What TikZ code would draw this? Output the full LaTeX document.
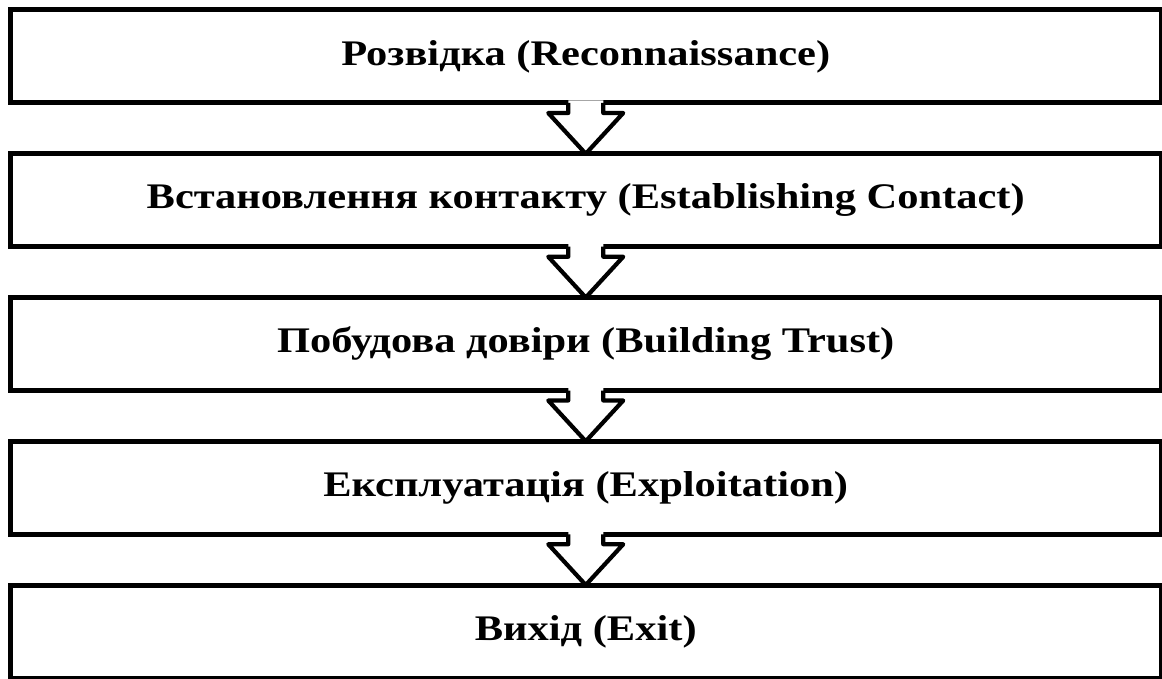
\documentclass[tikz,border=0pt]{standalone}
\usepackage{fontspec}
\setmainfont{Liberation Serif}
\newfontfamily\stagefont[FakeStretch=1.18]{Liberation Serif}
\usetikzlibrary{calc}
\tikzset{
  stage/.style={draw, line width=2.5pt, rectangle, minimum width=575.25pt,
    minimum height=46.5pt, inner sep=0pt, outer sep=0pt,
    font=\stagefont\fontsize{18}{21}\selectfont\bfseries},
  flowarrow/.style={draw=black, line width=2.1pt, line join=round},
  gapfill/.style={fill=white},
}
\begin{document}
\begin{tikzpicture}[x=0.5pt,y=-0.5pt]
\useasboundingbox (0,0) rectangle (1162,679);
% the five stages, top to bottom
\node[stage] (s1) at (585.75,56.5)  {Розвідка (Reconnaissance)};
\node[stage] (s2) at (585.75,200.25) {Встановлення контакту (Establishing Contact)};
\node[stage] (s3) at (585.75,344)   {Побудова довіри (Building Trust)};
\node[stage] (s4) at (585.75,487.75) {Експлуатація (Exploitation)};
\node[stage] (s5) at (585.75,631.5) {Вихід (Exit)};
% block arrows leading from each stage into the next
\foreach \a/\b in {s1/s2,s2/s3,s3/s4,s4/s5}{
  \fill[gapfill] ($(\a.south)+(-17.5,-2.6)$) -- ($(\a.south)+(-17.5,10)$)
    -- ($(\a.south)+(-37.5,10)$) -- (\b.north) -- ($(\a.south)+(37.5,10)$)
    -- ($(\a.south)+(17.5,10)$) -- ($(\a.south)+(17.5,-2.6)$) -- cycle;
  \draw[flowarrow] ($(\a.south)+(-17.5,0)$) -- ($(\a.south)+(-17.5,10)$)
    -- ($(\a.south)+(-37.5,10)$) -- (\b.north) -- ($(\a.south)+(37.5,10)$)
    -- ($(\a.south)+(17.5,10)$) -- ($(\a.south)+(17.5,0)$);
}
\end{tikzpicture}
\end{document}
